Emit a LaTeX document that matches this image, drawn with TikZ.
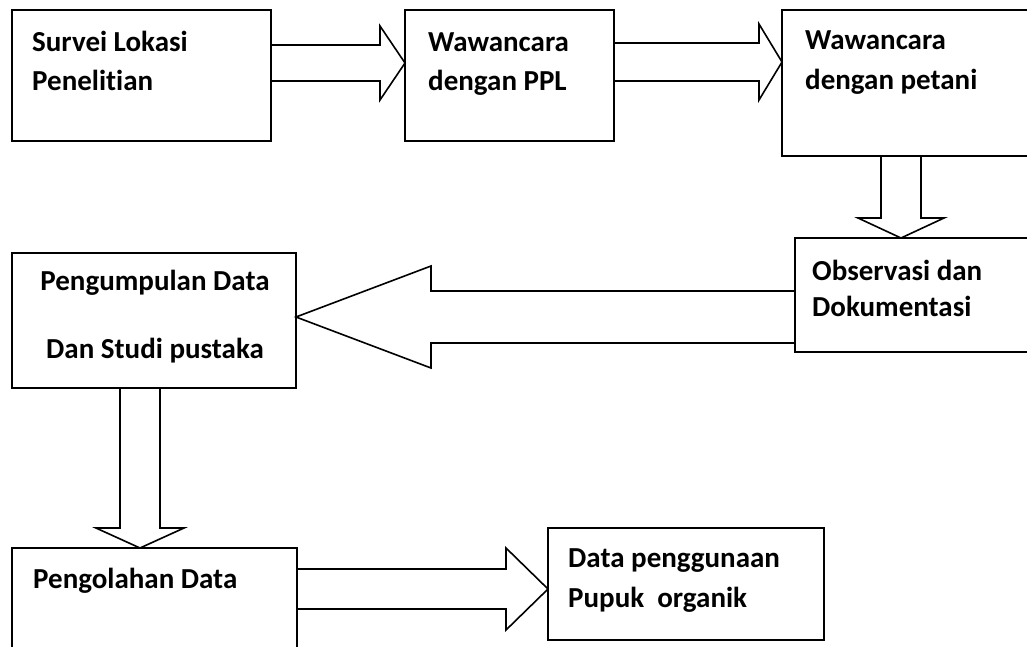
\documentclass[tikz,border=0pt]{standalone}
\usepackage{fontspec}
\setmainfont{Carlito}[Ligatures=NoCommon]
\usetikzlibrary{calc}

% Hollow block arrow from #1 to #2: shaft half-width #3, head half-width #4, head length #5
\newcommand\blockarrow[5]{%
  \path (#1) coordinate (ba-s) (#2) coordinate (ba-e);
  \path ($(ba-e)!#5!(ba-s)$) coordinate (ba-h);
  \draw[hollowarrow]
    ($(ba-s)!#3!90:(ba-e)$) -- ($(ba-h)!#3!-90:(ba-s)$) --
    ($(ba-h)!#4!-90:(ba-s)$) -- (ba-e) --
    ($(ba-h)!#4!90:(ba-s)$) -- ($(ba-h)!#3!90:(ba-s)$) --
    ($(ba-s)!#3!-90:(ba-e)$);
}

\begin{document}
\begin{tikzpicture}[x=1pt,y=-1pt,
  stepbox/.style={draw, line width=1.6pt, minimum width=#1, inner sep=0pt,
    outer sep=0pt, anchor=north west, rectangle},
  hollowarrow/.style={draw, line width=1.6pt, line join=miter},
  txt/.style={anchor=base west, inner sep=0pt, font=\bfseries\fontsize{29}{35}\selectfont},
  ctxt/.style={anchor=base, inner sep=0pt, font=\bfseries\fontsize{29}{35}\selectfont}]
\useasboundingbox (0,0) rectangle (1027,646);
\clip (0,0) rectangle (1027,646);

% process boxes
\node[stepbox=259pt, minimum height=131pt] (survei) at (12,10) {};
\node[stepbox=209pt, minimum height=131pt] (ppl) at (405,10) {};
\node[stepbox=260pt, minimum height=146pt] (petani) at (782,10) {};
\node[stepbox=250pt, minimum height=114pt] (obs) at (795,238) {};
\node[stepbox=284pt, minimum height=135pt] (kumpul) at (12,253) {};
\node[stepbox=285pt, minimum height=120pt] (olah) at (12,548) {};
\node[stepbox=276pt, minimum height=112pt] (hasil) at (548,528) {};

% labels
\node[txt] (survei-a) at (32,51) {Survei Lokasi};
\node[txt] (survei-b) at (32,90) {Penelitian};
\node[txt] (ppl-a) at (428,51) {Wawancara};
\node[txt] (ppl-b) at (428,90) {dengan PPL};
\node[txt] (petani-a) at (805,49) {Wawancara};
\node[txt] (petani-b) at (805,89) {dengan petani};
\node[txt] (obs-a) at (812,280) {Observasi dan};
\node[txt] (obs-b) at (812,316) {Dokumentasi};
\node[ctxt] (kumpul-a) at (155,290) {Pengumpulan Data};
\node[ctxt] (kumpul-b) at (155,358) {Dan Studi pustaka};
\node[txt] (olah-a) at (33,588) {Pengolahan Data};
\node[txt] (hasil-a) at (568,567) {Data penggunaan};
\node[txt] (hasil-b) at (568,607) {Pupuk\ \ organik};

% block arrows between the boxes
\blockarrow{survei.east |- 0,63}{ppl.west |- 0,63}{18pt}{37pt}{25pt}
\blockarrow{ppl.east |- 0,62}{petani.west |- 0,62}{19pt}{38pt}{23pt}
\blockarrow{petani.south -| 901,0}{obs.north -| 901,0}{20pt}{43pt}{20pt}
\blockarrow{obs.west |- 0,317}{kumpul.east |- 0,317}{26pt}{51pt}{135pt}
\blockarrow{kumpul.south -| 140,0}{olah.north -| 140,0}{20pt}{44pt}{20pt}
\blockarrow{olah.east |- 0,589}{hasil.west |- 0,589}{20pt}{41pt}{42pt}
\end{tikzpicture}
\end{document}
